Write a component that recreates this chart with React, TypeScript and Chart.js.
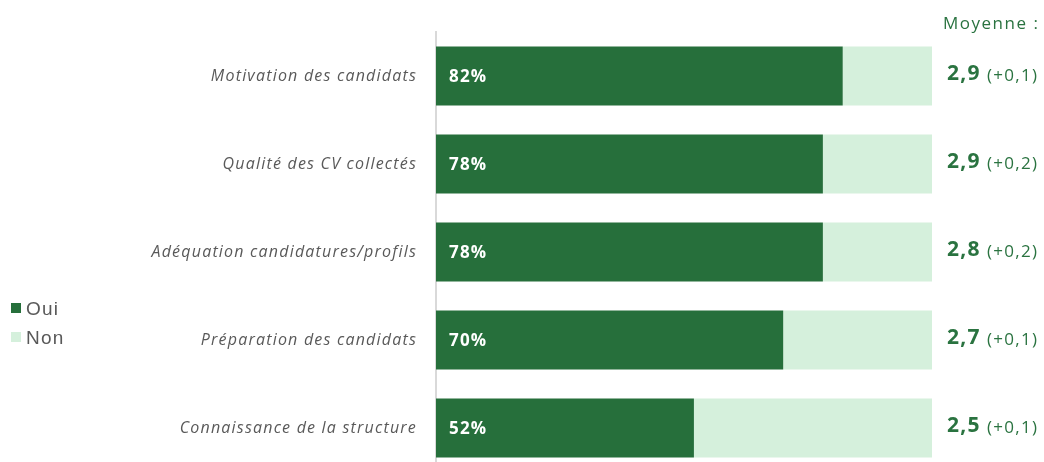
import React, { useEffect, useRef } from "react";
import { Chart, registerables } from "chart.js";

Chart.register(...registerables);

const categories = [
  "Motivation des candidats",
  "Qualité des CV collectés",
  "Adéquation candidatures/profils",
  "Préparation des candidats",
  "Connaissance de la structure",
];
const ouiValues = [82, 78, 78, 70, 52];
const nonValues = [18, 22, 22, 30, 48];
const moyennes = ["2,9", "2,9", "2,8", "2,7", "2,5"];
const evolutions = ["(+0,1)", "(+0,2)", "(+0,2)", "(+0,1)", "(+0,1)"];
const seriesNames = ["Oui", "Non"];
const moyenneTitle = "Moyenne :";

const DARK = "#266F3B";
const LIGHT = "#D5F0DC";
const TEXT_GREEN = "#2A7340";
const GRAY = "#595959";

const spacingPlugin = {
  id: "spacing",
  beforeDraw(chart: any) {
    (chart.ctx as any).letterSpacing = "1.2px";
  },
};

const overlayPlugin = {
  id: "overlay",
  afterDatasetsDraw(chart: any) {
    const ctx = chart.ctx as any;
    const meta = chart.getDatasetMeta(0);
    ctx.save();
    ctx.letterSpacing = "1.2px";
    // percent labels
    ctx.fillStyle = "#FFFFFF";
    ctx.font = "bold 17px 'Open Sans'";
    ctx.textAlign = "left";
    ctx.textBaseline = "middle";
    meta.data.forEach((bar: any, i: number) => {
      ctx.fillText(ouiValues[i] + "%", chart.chartArea.left + 13, bar.y + 1);
    });
    // right-side averages
    meta.data.forEach((bar: any, i: number) => {
      const x0 = 947;
      ctx.fillStyle = TEXT_GREEN;
      ctx.letterSpacing = "1.3px";
      ctx.font = "bold 21px 'Open Sans'";
      ctx.textBaseline = "middle";
      ctx.fillText(moyennes[i], x0, bar.y - 2);
      const w = ctx.measureText(moyennes[i]).width;
      ctx.font = "17px 'Open Sans'";
      ctx.fillText(evolutions[i], x0 + w + 6, bar.y);
    });
    ctx.fillStyle = TEXT_GREEN;
    ctx.letterSpacing = "1.5px";
    ctx.font = "17px 'Open Sans'";
    ctx.textAlign = "left";
    ctx.fillText(moyenneTitle, 943, 24);
    // legend
    ctx.letterSpacing = "1.2px";
    const colors = [DARK, LIGHT];
    const ys = [308, 337];
    seriesNames.forEach((name, i) => {
      ctx.fillStyle = colors[i];
      ctx.fillRect(11, ys[i] - 5, 10, 10);
      ctx.fillStyle = GRAY;
      ctx.font = "19px 'Liberation Sans'";
      ctx.fillText(name, 26, ys[i] + 2);
    });
    ctx.restore();
  },
};

export default function App() {
  const ref = useRef<HTMLCanvasElement>(null);
  useEffect(() => {
    document.body.style.margin = "0";
    const chart = new Chart(ref.current!, {
      type: "bar",
      data: {
        labels: categories,
        datasets: [
          {
            label: seriesNames[0],
            data: ouiValues,
            backgroundColor: DARK,
            barPercentage: 0.67,
            categoryPercentage: 1,
          },
          {
            label: seriesNames[1],
            data: nonValues,
            backgroundColor: LIGHT,
            barPercentage: 0.67,
            categoryPercentage: 1,
          },
        ],
      },
      options: {
        indexAxis: "y",
        responsive: true,
        maintainAspectRatio: false,
        animation: false,
        devicePixelRatio: 1,
        layout: { padding: { left: 0, right: 112, top: 32, bottom: 8 } },
        plugins: { legend: { display: false }, tooltip: { enabled: false } },
        scales: {
          x: { stacked: true, min: 0, max: 100, display: false },
          y: {
            stacked: true,
            grid: { display: false, drawTicks: false },
            border: { display: true, color: "#D9D9D9", width: 2 },
            ticks: {
              color: GRAY,
              padding: 19,
              font: { family: "'Open Sans'", style: "italic", size: 16 },
            },
            afterFit(scale: any) {
              scale.width = 436;
              scale.paddingTop = 0;
              scale.paddingBottom = 0;
            },
          },
        },
      },
      plugins: [spacingPlugin, overlayPlugin],
    });
    return () => chart.destroy();
  }, []);
  return (
    <div style={{ position: "fixed", left: 0, top: 0, width: 1044, height: 462, overflow: "hidden", background: "#fff" }}>
      <div style={{ position: "relative", width: 1044, height: 480 }}>
        <canvas ref={ref} />
      </div>
    </div>
  );
}
